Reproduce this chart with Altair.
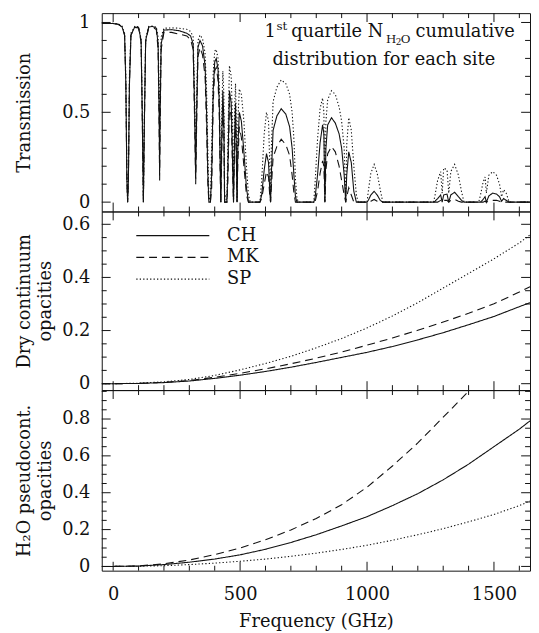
import altair as alt
import pandas as pd

FONT = "DejaVu Serif"
SITES = ["CH", "MK", "SP"]

# ---------------- Top panel: transmission (1st quartile N_H2O) ----------------
trans_freq = [-45, 0, 20, 35, 45, 50, 54, 57, 60, 64, 70, 85, 100, 110, 115, 119, 123, 128,
              140, 155, 170, 177, 181, 183, 185, 189, 200, 230, 260, 290, 305, 315, 321, 325,
              329, 334, 342, 352, 362, 368, 373, 377, 383, 388, 394, 400, 406, 413, 418, 421,
              424, 427, 432, 436, 439, 448, 452, 458, 465, 470, 474, 478, 482, 485, 488, 491,
              497, 505, 515, 525, 533, 540, 578, 585, 595, 604, 612, 617, 620, 623, 630, 645,
              662, 680, 695, 705, 712, 718, 724, 730, 790, 795, 805, 815, 825, 830, 834, 838,
              845, 860, 875, 890, 900, 910, 916, 920, 928, 938, 948, 958, 965, 1000, 1005,
              1015, 1028, 1040, 1052, 1062, 1262, 1268, 1278, 1290, 1296, 1302, 1315, 1322,
              1330, 1345, 1360, 1372, 1382, 1440, 1447, 1457, 1465, 1470, 1480, 1495, 1510,
              1522, 1530, 1538, 1548, 1560, 1642]
trans_ch = [0.995, 0.994, 0.99, 0.975, 0.93, 0.65, 0.12, 0.0, 0.12, 0.65, 0.93, 0.975, 0.972,
            0.9, 0.45, 0.0, 0.45, 0.9, 0.975, 0.978, 0.968, 0.88, 0.5, 0.17, 0.5, 0.88, 0.958,
            0.96, 0.954, 0.94, 0.925, 0.88, 0.5, 0.13, 0.5, 0.86, 0.9, 0.87, 0.76, 0.5, 0.15,
            0.0, 0.0, 0.15, 0.62, 0.78, 0.8, 0.74, 0.55, 0.25, 0.0, 0.3, 0.62, 0.45, 0.0, 0.0,
            0.2, 0.62, 0.55, 0.25, 0.0, 0.35, 0.55, 0.3, 0.0, 0.3, 0.5, 0.45, 0.28, 0.08, 0.0,
            0.0, 0.0, 0.04, 0.18, 0.27, 0.22, 0.06, 0.0, 0.15, 0.4, 0.48, 0.52, 0.49, 0.42,
            0.3, 0.15, 0.03, 0.0, 0.0, 0.0, 0.02, 0.15, 0.33, 0.43, 0.38, 0.0, 0.3, 0.43,
            0.47, 0.44, 0.38, 0.3, 0.15, 0.0, 0.15, 0.28, 0.22, 0.06, 0.0, 0.0, 0.0, 0.01,
            0.04, 0.06, 0.04, 0.01, 0.0, 0.0, 0.005, 0.02, 0.04, 0.0, 0.04, 0.045, 0.0, 0.04,
            0.055, 0.03, 0.01, 0.0, 0.0, 0.0, 0.015, 0.03, 0.0, 0.035, 0.05, 0.045, 0.03,
            0.005, 0.02, 0.01, 0.0, 0.0]
trans_mk = [0.995, 0.994, 0.99, 0.975, 0.93, 0.65, 0.12, 0.0, 0.12, 0.65, 0.93, 0.972, 0.97,
            0.89, 0.43, 0.0, 0.43, 0.89, 0.972, 0.974, 0.96, 0.85, 0.42, 0.12, 0.42, 0.85,
            0.945, 0.945, 0.935, 0.925, 0.905, 0.85, 0.45, 0.1, 0.45, 0.81, 0.86, 0.82, 0.7,
            0.42, 0.1, 0.0, 0.0, 0.08, 0.55, 0.73, 0.75, 0.68, 0.48, 0.2, 0.0, 0.22, 0.55,
            0.38, 0.0, 0.0, 0.12, 0.55, 0.47, 0.2, 0.0, 0.3, 0.45, 0.25, 0.0, 0.22, 0.42,
            0.36, 0.2, 0.04, 0.0, 0.0, 0.0, 0.02, 0.1, 0.17, 0.14, 0.03, 0.0, 0.08, 0.25,
            0.31, 0.35, 0.32, 0.26, 0.15, 0.05, 0.0, 0.0, 0.0, 0.0, 0.0, 0.06, 0.16, 0.23,
            0.2, 0.0, 0.18, 0.27, 0.31, 0.28, 0.2, 0.12, 0.04, 0.0, 0.03, 0.08, 0.04, 0.0,
            0.0, 0.0, 0.0, 0.0, 0.005, 0.015, 0.005, 0.0, 0.0, 0.0, 0.0, 0.0, 0.01, 0.0,
            0.01, 0.01, 0.0, 0.01, 0.015, 0.005, 0.0, 0.0, 0.0, 0.0, 0.0, 0.005, 0.0, 0.005,
            0.01, 0.01, 0.005, 0.0, 0.0, 0.0, 0.0, 0.0]
trans_sp = [0.995, 0.995, 0.992, 0.98, 0.94, 0.7, 0.15, 0.0, 0.15, 0.7, 0.94, 0.978, 0.976,
            0.91, 0.5, 0.0, 0.5, 0.91, 0.978, 0.98, 0.974, 0.92, 0.6, 0.3, 0.6, 0.92, 0.968,
            0.97, 0.968, 0.962, 0.95, 0.92, 0.6, 0.25, 0.6, 0.9, 0.93, 0.91, 0.83, 0.62,
            0.28, 0.03, 0.0, 0.3, 0.72, 0.84, 0.85, 0.8, 0.65, 0.35, 0.0, 0.45, 0.73, 0.6,
            0.05, 0.0, 0.35, 0.76, 0.7, 0.45, 0.0, 0.5, 0.66, 0.45, 0.0, 0.45, 0.63, 0.6,
            0.45, 0.2, 0.04, 0.0, 0.0, 0.12, 0.38, 0.5, 0.45, 0.2, 0.0, 0.3, 0.56, 0.64,
            0.68, 0.66, 0.6, 0.5, 0.35, 0.13, 0.02, 0.0, 0.0, 0.1, 0.35, 0.52, 0.58, 0.5,
            0.0, 0.45, 0.57, 0.62, 0.6, 0.53, 0.45, 0.3, 0.0, 0.32, 0.47, 0.4, 0.2, 0.04,
            0.0, 0.0, 0.06, 0.16, 0.21, 0.16, 0.07, 0.0, 0.0, 0.04, 0.12, 0.17, 0.05, 0.19,
            0.18, 0.05, 0.17, 0.21, 0.15, 0.06, 0.0, 0.0, 0.04, 0.11, 0.14, 0.05, 0.15, 0.17,
            0.15, 0.1, 0.03, 0.07, 0.05, 0.0, 0.0]

# ---------------- Middle / bottom panels: opacities ----------------
cont_freq = [-45, 0, 100, 200, 300, 400, 500, 600, 700, 800, 900, 1000, 1100, 1200, 1300,
             1400, 1500, 1600, 1642]
dry_ch = [0, 0, 0.001, 0.004, 0.010, 0.020, 0.032, 0.046, 0.062, 0.080, 0.099, 0.118, 0.140,
          0.165, 0.192, 0.222, 0.253, 0.290, 0.305]
dry_mk = [0, 0, 0.001, 0.005, 0.012, 0.024, 0.039, 0.056, 0.075, 0.096, 0.119, 0.145, 0.172,
          0.201, 0.232, 0.265, 0.301, 0.345, 0.365]
dry_sp = [0, 0, 0.002, 0.007, 0.016, 0.031, 0.052, 0.076, 0.103, 0.135, 0.170, 0.210, 0.255,
          0.305, 0.360, 0.415, 0.470, 0.530, 0.560]
h2o_ch = [0, 0, 0.002, 0.010, 0.023, 0.040, 0.063, 0.093, 0.130, 0.172, 0.220, 0.270, 0.330,
          0.395, 0.470, 0.555, 0.650, 0.745, 0.790]
h2o_mk = [0, 0, 0.003, 0.014, 0.035, 0.064, 0.100, 0.145, 0.198, 0.260, 0.335, 0.430, 0.545,
          0.670, 0.810, 0.950, 1.100, 1.260, 1.330]
h2o_sp = [0, 0, 0.001, 0.004, 0.010, 0.018, 0.028, 0.040, 0.055, 0.072, 0.092, 0.115, 0.142,
          0.172, 0.205, 0.242, 0.282, 0.330, 0.355]

# ---------------- Tick values ----------------
x_major = [0, 500, 1000, 1500]
x_minor = [100, 200, 300, 400, 600, 700, 800, 900, 1100, 1200, 1300, 1400, 1600]
top_major = [0, 0.5, 1]
top_minor = [0.1, 0.2, 0.3, 0.4, 0.6, 0.7, 0.8, 0.9]
mid_major = [0, 0.2, 0.4, 0.6]
mid_minor = [0.05, 0.1, 0.15, 0.25, 0.3, 0.35, 0.45, 0.5, 0.55]
bot_major = [0, 0.2, 0.4, 0.6, 0.8]
bot_minor = [0.05, 0.1, 0.15, 0.25, 0.3, 0.35, 0.45, 0.5, 0.55, 0.65, 0.7, 0.75, 0.85, 0.9, 0.95]

W = 434
H_TOP, H_MID, H_BOT = 201, 181, 183
XSCALE = alt.Scale(domain=[-45, 1642], nice=False, zero=False)
INK = "#111"


def long_df(freqs, series):
    rows = []
    for site, vals in zip(SITES, series):
        for f, v in zip(freqs, vals):
            rows.append({"freq": f, "val": v, "site": site})
    return pd.DataFrame(rows)


def tick_layers(ys_major, ys_minor, yscale, H, xaxis, yaxis):
    layers = []
    for vals, L in [(x_major, 9), (x_minor, 5)]:
        base = alt.Chart(pd.DataFrame({"freq": vals})).mark_rule(color=INK, strokeWidth=1)
        xenc = alt.X("freq:Q", scale=XSCALE, axis=xaxis)
        layers.append(base.encode(x=xenc, y=alt.value(H), y2=alt.value(H - L)))
        layers.append(base.encode(x=xenc, y=alt.value(0), y2=alt.value(L)))
    for vals, L in [(ys_major, 9), (ys_minor, 5)]:
        base = alt.Chart(pd.DataFrame({"val": vals})).mark_rule(color=INK, strokeWidth=1)
        yenc = alt.Y("val:Q", scale=yscale, axis=yaxis)
        layers.append(base.encode(y=yenc, x=alt.value(0), x2=alt.value(L)))
        layers.append(base.encode(y=yenc, x=alt.value(W), x2=alt.value(W - L)))
    return layers


DASH = alt.Scale(domain=SITES, range=[[1, 0], [8, 5], [1.3, 2.2]])


def lines(df, yscale, xaxis, yaxis, legend):
    return alt.Chart(df).mark_line(clip=True, color=INK, strokeWidth=1.1).encode(
        x=alt.X("freq:Q", scale=XSCALE, axis=xaxis),
        y=alt.Y("val:Q", scale=yscale, axis=yaxis),
        strokeDash=alt.StrokeDash("site:N", scale=DASH, legend=legend),
    )


def panel(df, ys_major, ys_minor, yscale, H, xaxis, yaxis, legend, extra=()):
    main = lines(df, yscale, xaxis, yaxis, legend)
    return alt.layer(main, *tick_layers(ys_major, ys_minor, yscale, H, xaxis, yaxis),
                     *extra).properties(width=W, height=H)


one = pd.DataFrame({"k": [0]})


def note(text, x, y, size):
    return alt.Chart(one).mark_text(text=text, font=FONT, fontSize=size, align="left",
                                    baseline="alphabetic", color=INK).encode(
        x=alt.value(x), y=alt.value(y))


notes = [
    note("1", 165, 24, 18),
    note("st", 177, 17, 12),
    note("quartile N", 192, 24, 18),
    note("H", 288, 30, 12),
    note("2", 298, 32, 9),
    note("O", 303, 30, 12),
    note("cumulative", 318, 24, 18),
    note("distribution for each site", 173, 53, 18),
]


def yaxis(values, title, pad):
    return alt.Axis(values=values, format="~g", title=title, titlePadding=pad,
                    labelFont=FONT, titleFont=FONT)


# ---- top ----
y_top = alt.Scale(domain=[-0.052, 1.052], nice=False, zero=False)
top = panel(long_df(trans_freq, [trans_ch, trans_mk, trans_sp]), top_major, top_minor, y_top,
            H_TOP, None, yaxis(top_major, "Transmission", 29), None, notes)

# ---- middle ----
y_mid = alt.Scale(domain=[-0.0241, 0.6483], nice=False, zero=False)
mid_legend = alt.Legend(orient="none", legendX=34, legendY=16, title=None, symbolType="stroke",
                        symbolSize=5476, symbolStrokeWidth=1.2, symbolStrokeColor=INK,
                        labelFont=FONT, labelFontSize=18, labelColor=INK, labelOffset=17,
                        rowPadding=3, padding=0, clipHeight=17, labelLimit=0)
mid = panel(long_df(cont_freq, [dry_ch, dry_mk, dry_sp]), mid_major, mid_minor, y_mid, H_MID,
            None, yaxis(mid_major, ["Dry continuum", "opacities"], 7), mid_legend)

# ---- bottom ----
y_bot = alt.Scale(domain=[-0.023, 0.957], nice=False, zero=False)
bot_xaxis = alt.Axis(values=x_major, format="d", title="Frequency (GHz)", labelPadding=15,
                     titlePadding=10, labelFont=FONT, titleFont=FONT)
bot = panel(long_df(cont_freq, [h2o_ch, h2o_mk, h2o_sp]), bot_major, bot_minor, y_bot, H_BOT,
            bot_xaxis, yaxis(bot_major, ["H\u2082O pseudocont.", "opacities"], 7), None)

chart = alt.vconcat(top, mid, bot, spacing=0, bounds="flush").resolve_scale(
    strokeDash="independent").resolve_legend(strokeDash="independent").properties(
    padding={"left": 6, "top": 0, "right": 0, "bottom": 0}
).configure(font=FONT).configure_view(stroke=INK, strokeWidth=1).configure_axis(
    labelFont=FONT, titleFont=FONT, labelFontSize=18, titleFontSize=18, titleFontWeight="normal",
    labelColor=INK, titleColor=INK, grid=False, ticks=False, tickSize=0, domain=False,
    labelPadding=12, titleLineHeight=22
)

chart.save("out.html", embed_options={"renderer": "svg", "actions": False})
